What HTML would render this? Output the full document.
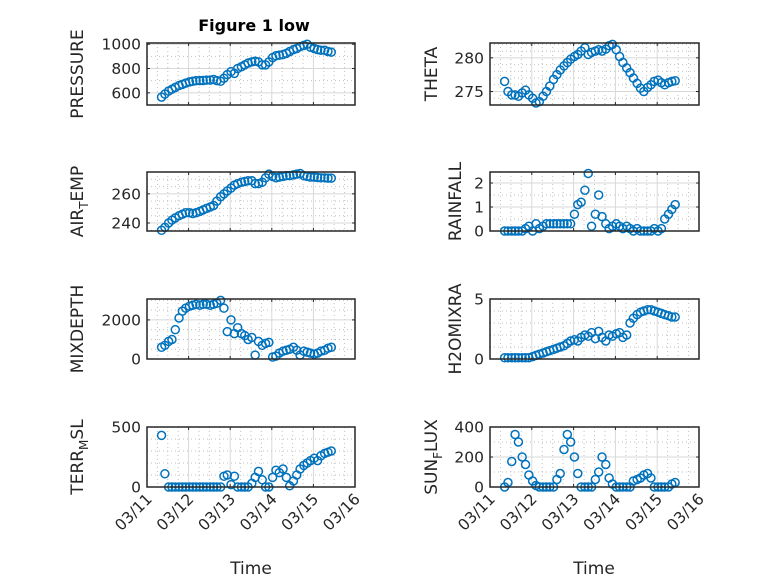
<!DOCTYPE html>
<html><head><meta charset="utf-8"><style>
html,body{margin:0;padding:0;background:#fff;}
svg{display:block;font-family:"DejaVu Sans","Liberation Sans",sans-serif;}
</style></head><body>
<svg id="fig" width="778" height="583" viewBox="0 0 778 583" xmlns="http://www.w3.org/2000/svg">
<rect width="778" height="583" fill="#fff"/>
<text x="254" y="31" font-size="16" font-weight="bold" text-anchor="middle" fill="#000">Figure 1 low</text>
<text x="251" y="574" font-size="17" text-anchor="middle" fill="#262626">Time</text>
<text x="594" y="574" font-size="17" text-anchor="middle" fill="#262626">Time</text>
</svg>
<script>
const times = [0.35,0.43,0.52,0.60,0.68,0.77,0.85,0.93,1.02,1.10,1.18,1.27,1.35,1.43,1.52,1.60,1.68,1.77,1.85,1.93,2.02,2.10,2.18,2.27,2.35,2.43,2.52,2.60,2.68,2.77,2.85,2.93,3.02,3.10,3.18,3.27,3.35,3.43,3.52,3.60,3.68,3.77,3.85,3.93,4.02,4.10,4.18,4.27,4.35,4.43];
const xTickLabels = ["03/11","03/12","03/13","03/14","03/15","03/16"];
const pressure = [565,590,615,630,645,660,670,680,690,695,700,700,702,705,705,710,700,695,720,750,775,760,800,815,830,845,855,860,855,830,830,855,890,905,910,915,925,940,955,965,980,990,1000,975,965,955,950,950,940,935];
const theta = [276.5,275.0,274.5,274.5,274.3,274.8,275.2,274.5,274.0,273.3,273.5,274.3,275.0,275.8,276.8,277.5,278.2,278.8,279.3,279.8,280.2,280.5,281.0,281.5,280.5,280.8,281.0,281.2,281.0,281.3,281.8,282.0,281.2,280.2,279.3,278.5,277.8,277.0,276.2,275.5,275.0,275.6,276.0,276.5,276.7,276.3,276.0,276.3,276.5,276.6];
const airTemp = [235,237,240,242,243.5,245,246,247,247,246.5,247,248,249,250,251,252,255,258,260,262,264,266,267,268,268.5,269,269,267,267,268,271,273.5,272,271,271.5,272,272.5,272.5,273,273.5,274,272.5,272,271.5,271.5,271.2,271,271,270.8,270.8];
const rainfall = [0,0,0,0,0,0,0.1,0.2,0,0.3,0.1,0.2,0.3,0.3,0.3,0.3,0.3,0.3,0.3,0.3,0.7,1.1,1.2,1.7,2.4,0.2,0.7,1.5,0.6,0.3,0.1,0.2,0.3,0.2,0.1,0.2,0.1,0,0.1,0,0,0,0,0.1,0,0.1,0.5,0.7,0.9,1.1];
const mixDepth = [600,700,900,1000,1500,2100,2450,2600,2700,2750,2800,2750,2800,2800,2750,2800,2850,3000,2600,1400,2000,1300,1600,1300,1200,1000,1100,200,900,700,800,850,100,150,300,400,450,500,600,450,200,400,350,300,250,300,400,450,550,600];
const h2oMix = [0.1,0.1,0.1,0.1,0.1,0.1,0.1,0.1,0.2,0.3,0.4,0.5,0.6,0.7,0.8,0.9,1.0,1.1,1.3,1.5,1.6,1.5,1.8,2.0,1.9,2.2,1.7,2.3,1.8,1.5,2.0,1.9,2.1,2.2,1.8,2.0,3.0,3.4,3.7,3.9,4.0,4.1,4.1,4.0,3.9,3.8,3.7,3.6,3.5,3.5];
const terrMsl = [430,110,0,0,0,0,0,0,0,0,0,0,0,0,0,0,0,0,90,100,20,90,0,0,0,0,30,80,130,60,0,0,80,140,120,150,80,10,50,100,150,180,200,220,240,220,260,280,290,300];
const sunFlux = [0,30,170,350,300,200,150,80,40,10,0,0,0,0,0,50,90,250,350,300,200,90,0,0,0,0,50,100,200,150,60,20,0,0,0,0,0,40,50,60,80,90,60,0,0,0,0,0,20,30];
const pressureTicks = [600,800,1000];
const thetaTicks = [275,280];
const airTempTicks = [240,260];
const rainfallTicks = [0,1,2];
const mixDepthTicks = [0,2000];
const h2oTicks = [0,5];
const terrTicks = [0,500];
const sunTicks = [0,200,400];

const NS='http://www.w3.org/2000/svg';
const svg=document.getElementById('fig');
function mk(tag,attrs,parent){const e=document.createElementNS(NS,tag);for(const k in attrs)e.setAttribute(k,attrs[k]);(parent||svg).appendChild(e);return e;}

const panels=[
 {key:'pressure',label:[['PRESSURE','']],x0:147,x1:355,y0:43,y1:105,lo:500,hi:1010,ticks:pressureTicks,minor:100,data:pressure,lx:83,showX:false},
 {key:'theta',label:[['THETA','']],x0:490,x1:699,y0:43,y1:105,lo:273,hi:282.2,ticks:thetaTicks,minor:1,data:theta,lx:437,showX:false},
 {key:'air-temp',label:[['AIR',''],['T','sub'],['EMP','']],x0:147,x1:355,y0:172,y1:231,lo:234.5,hi:275,ticks:airTempTicks,minor:5,data:airTemp,lx:83,showX:false},
 {key:'rainfall',label:[['RAINFALL','']],x0:490,x1:699,y0:172,y1:231,lo:0,hi:2.46,ticks:rainfallTicks,minor:0.5,data:rainfall,lx:461,showX:false},
 {key:'mixdepth',label:[['MIXDEPTH','']],x0:147,x1:355,y0:299,y1:359,lo:0,hi:3070,ticks:mixDepthTicks,minor:500,data:mixDepth,lx:83,showX:false},
 {key:'h2omixra',label:[['H2OMIXRA','']],x0:490,x1:699,y0:299,y1:359,lo:0,hi:5,ticks:h2oTicks,minor:1,data:h2oMix,lx:461,showX:false},
 {key:'terr-msl',label:[['TERR',''],['M','sub'],['SL','']],x0:147,x1:355,y0:427,y1:487,lo:0,hi:500,ticks:terrTicks,minor:100,data:terrMsl,lx:83,showX:true},
 {key:'sun-flux',label:[['SUN',''],['F','sub'],['LUX','']],x0:490,x1:699,y0:427,y1:487,lo:0,hi:400,ticks:sunTicks,minor:100,data:sunFlux,lx:437,showX:true}
];

panels.forEach(p=>{
  const g=mk('g',{});
  
  
  const xs=t=>p.x0+(p.x1-p.x0)*t/5;
  const ys=v=>p.y1-(p.y1-p.y0)*(v-p.lo)/(p.hi-p.lo);
  mk('rect',{x:p.x0,y:p.y0,width:p.x1-p.x0,height:p.y1-p.y0,fill:'#fff'},g);
  for(let d=0;d<5;d++)for(let q=1;q<4;q++){const x=xs(d+q/4);mk('line',{x1:x,x2:x,y1:p.y0,y2:p.y1,stroke:'#c0c0c0','stroke-width':1,'stroke-dasharray':'1 3'},g);}
  const start=Math.ceil(p.lo/p.minor)*p.minor;
  for(let v=start;v<=p.hi+1e-9;v+=p.minor){if(p.ticks.some(t=>Math.abs(t-v)<1e-9))continue;const y=ys(v);mk('line',{x1:p.x0,x2:p.x1,y1:y,y2:y,stroke:'#c0c0c0','stroke-width':1,'stroke-dasharray':'1 3'},g);}
  for(let d=1;d<5;d++){const x=xs(d);mk('line',{x1:x,x2:x,y1:p.y0,y2:p.y1,stroke:'#d8d8d8','stroke-width':1},g);}
  p.ticks.forEach(v=>{const y=ys(v);mk('line',{x1:p.x0,x2:p.x1,y1:y,y2:y,stroke:'#d8d8d8','stroke-width':1},g);
    const t=mk('text',{x:p.x0-6,y:y+5.5,'font-size':15.5,'text-anchor':'end',fill:'#262626'},g);t.textContent=String(v);
    
    
    mk('line',{x1:p.x0,x2:p.x0+3,y1:y,y2:y,stroke:'#262626'},g);mk('line',{x1:p.x1,x2:p.x1-3,y1:y,y2:y,stroke:'#262626'},g);
  });
  for(let d=0;d<=5;d++){const x=xs(d);mk('line',{x1:x,x2:x,y1:p.y1,y2:p.y1-3,stroke:'#262626'},g);mk('line',{x1:x,x2:x,y1:p.y0,y2:p.y0+3,stroke:'#262626'},g);}
  const mg=mk('g',{fill:'none',stroke:'#0072BD','stroke-width':1.5},g);
  
  
  times.forEach((t,i)=>{const c=mk('circle',{cx:xs(t),cy:ys(p.data[i]),r:4},mg);
    
    });
  mk('rect',{x:p.x0,y:p.y0,width:p.x1-p.x0,height:p.y1-p.y0,fill:'none',stroke:'#262626','stroke-width':1.5},g);
  const cy=(p.y0+p.y1)/2;
  const lt=mk('text',{transform:`translate(${p.lx},${cy}) rotate(-90)`,'font-size':17,'text-anchor':'middle',fill:'#262626'},g);
  
  
  let prevSub=false;
  p.label.forEach(([s,k])=>{
    let a={};
    if(k==='sub'){a={'font-size':12,dy:5};prevSub=true;}
    else if(prevSub){a={dy:-5};prevSub=false;}
    const ts=mk('tspan',a,lt);ts.textContent=s;
  });
  if(p.showX){
    xTickLabels.forEach((s,d)=>{const x=xs(d);const t=mk('text',{transform:`translate(${x+6},${p.y1+13}) rotate(-45)`,'font-size':15.5,'text-anchor':'end',fill:'#262626'},g);t.textContent=s;
      
      });
  }
});
</script>
</body></html>
